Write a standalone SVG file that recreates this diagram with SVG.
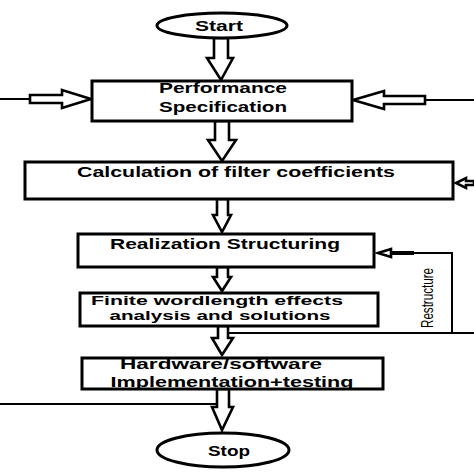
<svg xmlns="http://www.w3.org/2000/svg" width="474" height="474" viewBox="0 0 474 474">
<style>
.box{fill:#fff;stroke:#000;stroke-width:3}
.harr{fill:#fff;stroke:#000;stroke-width:2.6;stroke-linejoin:miter}
.ln{fill:none;stroke:#000;stroke-width:2}
.t{font-family:"Liberation Sans",Arial,sans-serif;font-weight:bold;font-size:15px;fill:#000;text-anchor:middle}
.s{font-size:13px}
.r{font-family:"Liberation Sans",Arial,sans-serif;font-size:17px;fill:#000;text-anchor:middle}
</style>
<rect width="474" height="474" fill="#fff"/>
<g id="connectors">
<path class="harr" d="M214,38 L228,38 L228,58 L233,58 L221,80 L207,58 L214,58 Z"/>
<path class="ln" d="M0,99 L30,99"/>
<path class="harr" d="M30,95 L62,95 L62,90 L91,99 L62,108 L62,103 L30,103 Z"/>
<path class="ln" d="M474,100 L425,100"/>
<path class="harr" d="M425,96 L384,96 L384,91 L353,100 L384,109 L384,104 L425,104 Z"/>
<path class="harr" d="M215,121 L229,121 L229,140 L236,140 L222,161 L208,140 L215,140 Z"/>
<path class="harr" d="M474,181 L466,181 L466,178 L456,183 L466,188 L466,185 L474,185 Z"/>
<path class="harr" d="M217,199 L228,199 L228,215 L231,215 L222,232 L213,215 L217,215 Z"/>
<path class="harr" d="M217,267 L228,267 L228,277 L231,277 L222,291 L213,277 L217,277 Z"/>
<path class="ln" d="M474,333 L227,333"/>
<path class="ln" d="M452,333 L452,253 L414,253"/>
<path d="M392,253 L414,253" stroke="#000" stroke-width="4"/>
<path class="harr" d="M378,253 L391,249 L391,257 Z" stroke-width="2"/>
<path class="harr" d="M218,326 L228,326 L228,338 L233,338 L222,355 L212,338 L218,338 Z"/>
<path class="ln" d="M0,404 L217,404"/>
<path class="harr" d="M217,389 L229,389 L229,407 L233,407 L222,430 L212,407 L217,407 Z"/>
<text class="r" transform="translate(433,298) rotate(-90)" textLength="60" lengthAdjust="spacingAndGlyphs">Restructure</text>
</g>
<g id="start">
<ellipse cx="222" cy="25.5" rx="65" ry="12.5" fill="#fff" stroke="#000" stroke-width="3"/>
<text class="t" x="219" y="31" textLength="48" lengthAdjust="spacingAndGlyphs">Start</text>
</g>
<g id="performance">
<rect class="box" x="92" y="81" width="260" height="40"/>
<text class="t" x="223" y="93" textLength="128" lengthAdjust="spacingAndGlyphs">Performance</text>
<text class="t" x="223" y="112" textLength="128" lengthAdjust="spacingAndGlyphs">Specification</text>
</g>
<g id="calculation">
<rect class="box" x="25" y="162" width="428" height="37"/>
<text class="t" x="236" y="177" textLength="318" lengthAdjust="spacingAndGlyphs">Calculation of filter coefficients</text>
</g>
<g id="realization">
<rect class="box" x="78" y="234" width="296" height="33"/>
<text class="t" x="225" y="249" textLength="230" lengthAdjust="spacingAndGlyphs">Realization Structuring</text>
</g>
<g id="finite">
<rect class="box" x="80" y="293" width="298" height="33"/>
<text class="t s" x="217" y="305" textLength="252" lengthAdjust="spacingAndGlyphs">Finite wordlength effects</text>
<text class="t s" x="220" y="320" textLength="221" lengthAdjust="spacingAndGlyphs">analysis and solutions</text>
</g>
<g id="hardware">
<rect class="box" x="82" y="358" width="301" height="31"/>
<text class="t" x="221" y="369" textLength="202" lengthAdjust="spacingAndGlyphs">Hardware/software</text>
<text class="t" x="232" y="387" textLength="243" lengthAdjust="spacingAndGlyphs">Implementation+testing</text>
</g>
<g id="stop">
<ellipse cx="223" cy="450" rx="66" ry="17" fill="#fff" stroke="#000" stroke-width="3"/>
<text class="t" x="229" y="456" textLength="42" lengthAdjust="spacingAndGlyphs">Stop</text>
</g>
</svg>
